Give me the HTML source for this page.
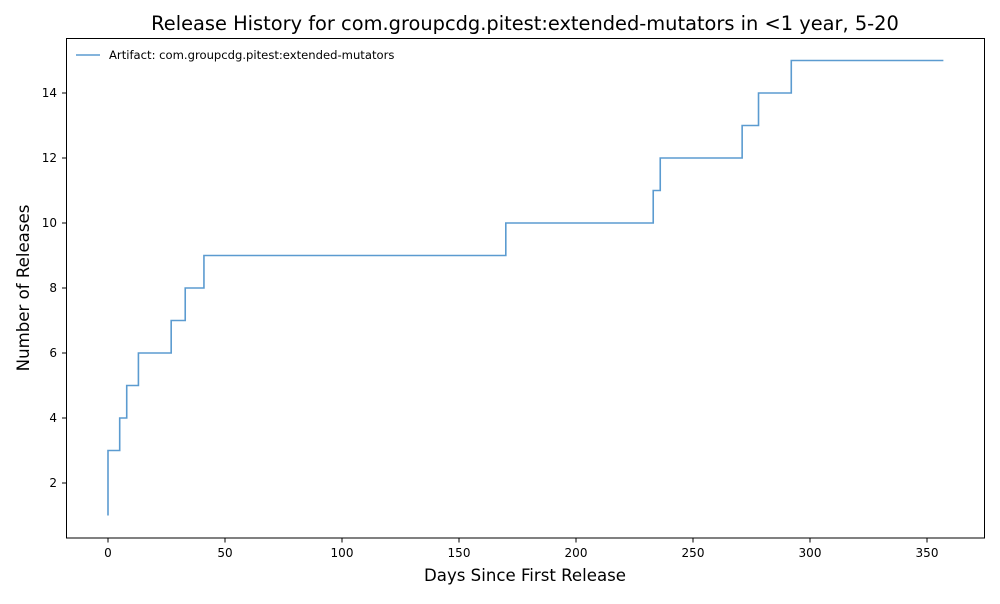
<!DOCTYPE html>
<html><head><meta charset="utf-8"><style>
body{margin:0;background:#fff;font-family:"DejaVu Sans","Liberation Sans",sans-serif}
svg text{font-family:"DejaVu Sans","Liberation Sans",sans-serif}
</style></head><body>
<svg id="chart" width="1000" height="600" xmlns="http://www.w3.org/2000/svg">
<rect width="1000" height="600" fill="#fff"/>
<text x="525" y="30" font-size="19.4" text-anchor="middle">Release History for com.groupcdg.pitest:extended-mutators in &lt;1 year, 5-20</text>
<g id="ticks"></g>
<path id="series" fill="none" stroke="#5b9bd0" stroke-width="1.6"/>
<rect x="66.5" y="38.5" width="918" height="499.5" fill="none" stroke="#000" stroke-width="1"/>
<g>
<line x1="76" y1="55" x2="100" y2="55" stroke="#5b9bd0" stroke-width="1.6"/>
<text x="109" y="59" font-size="11.6">Artifact: com.groupcdg.pitest:extended-mutators</text>
</g>
<text x="525" y="581" font-size="16.6" text-anchor="middle">Days Since First Release</text>
<text transform="translate(29,288) rotate(-90)" font-size="16.6" text-anchor="middle">Number of Releases</text>
</svg>
<script>
const days=[0,0,0,5,8,13,27,33,41,170,233,236,271,278,292,357];
const counts=[1,2,3,4,5,6,7,8,9,10,11,12,13,14,15,15];
const xTicks=[0,50,100,150,200,250,300,350];
const yTicks=[2,4,6,8,10,12,14];
const x=d=>108+d*2.34;
const y=v=>515.5-(v-1)*32.5;
const ns="http://www.w3.org/2000/svg";
const g=document.getElementById('ticks');
function mk(t,a){const e=document.createElementNS(ns,t);for(const k in a)e.setAttribute(k,a[k]);g.appendChild(e);return e;}
xTicks.forEach(t=>{
 const l=mk('line',{x1:x(t),x2:x(t),y1:538,y2:542.5,stroke:'#000'});
 
 
 const tx=mk('text',{x:x(t),y:557,'font-size':12,'text-anchor':'middle'});tx.textContent=t;
 
 
});
yTicks.forEach(t=>{
 const l=mk('line',{x1:62,x2:66.5,y1:y(t),y2:y(t),stroke:'#000'});
 
 
 const tx=mk('text',{x:57,y:y(t)+4,'font-size':12,'text-anchor':'end'});tx.textContent=t;
 
 
});
let d='M'+x(days[0])+' '+y(counts[0]);
for(let i=1;i<days.length;i++){d+=' L'+x(days[i])+' '+y(counts[i-1])+' L'+x(days[i])+' '+y(counts[i]);}
document.getElementById('series').setAttribute('d',d);
</script>
</body></html>
